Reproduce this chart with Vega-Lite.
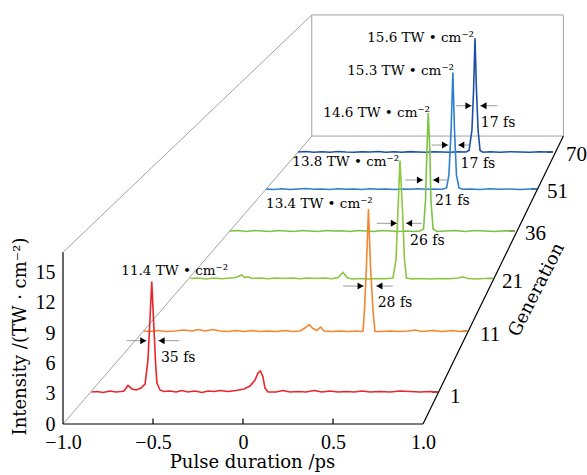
{
  "$schema": "https://vega.github.io/schema/vega-lite/v6.json",
  "width": 524,
  "height": 420,
  "autosize": {"type": "none"},
  "padding": {"left": 63, "top": 4, "right": 0, "bottom": 51},
  "background": "white",
  "config": {"view": {"stroke": null}, "font": "DejaVu Serif"},
  "datasets": {
    "frame": [
      {"kind": "guide", "x": -1, "y": 0, "x2": 0.383, "y2": 28.51},
      {"kind": "guide", "x": -1, "y": 17, "x2": 0.382, "y2": 40.5},
      {"kind": "guide", "x": 0.382, "y": 40.5, "x2": 1.78, "y2": 40.5},
      {"kind": "guide", "x": 0.382, "y": 28.51, "x2": 1.78, "y2": 28.51},
      {"kind": "guide", "x": 0.382, "y": 28.51, "x2": 0.382, "y2": 40.5},
      {"kind": "guide", "x": 1.78, "y": 28.51, "x2": 1.78, "y2": 40.5},
      {"kind": "axis", "x": -1, "y": 0, "x2": 1, "y2": 0},
      {"kind": "axis", "x": -1, "y": 0, "x2": -1, "y2": 17},
      {"kind": "axis", "x": 1, "y": 0, "x2": 1.78, "y2": 28.51},
      {"kind": "axis", "x": -0.5, "y": 0, "x2": -0.5, "y2": 0.55},
      {"kind": "axis", "x": 0, "y": 0, "x2": 0, "y2": 0.55},
      {"kind": "axis", "x": 0.5, "y": 0, "x2": 0.5, "y2": 0.55},
      {"kind": "axis", "x": 1.05, "y": 3.17, "x2": 1.083, "y2": 3.17},
      {"kind": "axis", "x": 1.217, "y": 9.18, "x2": 1.25, "y2": 9.18},
      {"kind": "axis", "x": 1.356, "y": 14.41, "x2": 1.389, "y2": 14.41},
      {"kind": "axis", "x": 1.478, "y": 19.11, "x2": 1.511, "y2": 19.11},
      {"kind": "axis", "x": 1.6, "y": 23.27, "x2": 1.633, "y2": 23.27},
      {"kind": "axis", "x": 1.689, "y": 26.93, "x2": 1.722, "y2": 26.93}
    ],
    "curves": [
      {"gen": "70", "x": 0.306, "y": 26.93}, {"gen": "70", "x": 0.35, "y": 26.98}, {"gen": "70", "x": 0.394, "y": 26.9}, {"gen": "70", "x": 0.439, "y": 26.96}, {"gen": "70", "x": 0.483, "y": 26.91}, {"gen": "70", "x": 0.528, "y": 26.98}, {"gen": "70", "x": 0.572, "y": 26.93}, {"gen": "70", "x": 0.617, "y": 26.9}, {"gen": "70", "x": 0.661, "y": 26.96}, {"gen": "70", "x": 0.706, "y": 26.93}, {"gen": "70", "x": 0.75, "y": 26.98}, {"gen": "70", "x": 0.794, "y": 26.91}, {"gen": "70", "x": 0.839, "y": 26.95}, {"gen": "70", "x": 0.883, "y": 26.91}, {"gen": "70", "x": 0.928, "y": 26.97}, {"gen": "70", "x": 0.972, "y": 26.93}, {"gen": "70", "x": 1.017, "y": 26.9}, {"gen": "70", "x": 1.061, "y": 26.96}, {"gen": "70", "x": 1.106, "y": 26.93}, {"gen": "70", "x": 1.15, "y": 26.91}, {"gen": "70", "x": 1.194, "y": 26.96}, {"gen": "70", "x": 1.239, "y": 26.93}, {"gen": "70", "x": 1.256, "y": 27.08}, {"gen": "70", "x": 1.272, "y": 29.11}, {"gen": "70", "x": 1.281, "y": 33.07}, {"gen": "70", "x": 1.289, "y": 38.19}, {"gen": "70", "x": 1.297, "y": 33.07}, {"gen": "70", "x": 1.306, "y": 29.11}, {"gen": "70", "x": 1.317, "y": 27.08}, {"gen": "70", "x": 1.333, "y": 26.91}, {"gen": "70", "x": 1.372, "y": 26.95}, {"gen": "70", "x": 1.428, "y": 26.91}, {"gen": "70", "x": 1.483, "y": 26.96}, {"gen": "70", "x": 1.539, "y": 26.93}, {"gen": "70", "x": 1.594, "y": 26.9}, {"gen": "70", "x": 1.65, "y": 26.96}, {"gen": "70", "x": 1.694, "y": 26.93}, {"gen": "70", "x": 1.722, "y": 26.93},
      {"gen": "51", "x": 0.128, "y": 23.27}, {"gen": "51", "x": 0.172, "y": 23.22}, {"gen": "51", "x": 0.217, "y": 23.29}, {"gen": "51", "x": 0.261, "y": 23.22}, {"gen": "51", "x": 0.306, "y": 23.27}, {"gen": "51", "x": 0.35, "y": 23.32}, {"gen": "51", "x": 0.394, "y": 23.24}, {"gen": "51", "x": 0.439, "y": 23.27}, {"gen": "51", "x": 0.483, "y": 23.22}, {"gen": "51", "x": 0.528, "y": 23.29}, {"gen": "51", "x": 0.572, "y": 23.24}, {"gen": "51", "x": 0.617, "y": 23.27}, {"gen": "51", "x": 0.661, "y": 23.22}, {"gen": "51", "x": 0.706, "y": 23.29}, {"gen": "51", "x": 0.75, "y": 23.24}, {"gen": "51", "x": 0.794, "y": 23.27}, {"gen": "51", "x": 0.839, "y": 23.22}, {"gen": "51", "x": 0.883, "y": 23.27}, {"gen": "51", "x": 0.928, "y": 23.24}, {"gen": "51", "x": 0.972, "y": 23.29}, {"gen": "51", "x": 1.017, "y": 23.24}, {"gen": "51", "x": 1.061, "y": 23.27}, {"gen": "51", "x": 1.106, "y": 23.24}, {"gen": "51", "x": 1.131, "y": 23.37}, {"gen": "51", "x": 1.144, "y": 24.65}, {"gen": "51", "x": 1.156, "y": 29.11}, {"gen": "51", "x": 1.166, "y": 34.8}, {"gen": "51", "x": 1.175, "y": 29.11}, {"gen": "51", "x": 1.186, "y": 24.65}, {"gen": "51", "x": 1.2, "y": 23.37}, {"gen": "51", "x": 1.222, "y": 23.24}, {"gen": "51", "x": 1.261, "y": 23.27}, {"gen": "51", "x": 1.317, "y": 23.22}, {"gen": "51", "x": 1.372, "y": 23.29}, {"gen": "51", "x": 1.428, "y": 23.24}, {"gen": "51", "x": 1.483, "y": 23.27}, {"gen": "51", "x": 1.539, "y": 23.22}, {"gen": "51", "x": 1.594, "y": 23.27}, {"gen": "51", "x": 1.633, "y": 23.27},
      {"gen": "36", "x": -0.075, "y": 19.11}, {"gen": "36", "x": -0.028, "y": 19.16}, {"gen": "36", "x": 0.017, "y": 19.06}, {"gen": "36", "x": 0.061, "y": 19.16}, {"gen": "36", "x": 0.106, "y": 19.11}, {"gen": "36", "x": 0.15, "y": 19.06}, {"gen": "36", "x": 0.194, "y": 19.16}, {"gen": "36", "x": 0.239, "y": 19.11}, {"gen": "36", "x": 0.283, "y": 19.06}, {"gen": "36", "x": 0.328, "y": 19.16}, {"gen": "36", "x": 0.372, "y": 19.11}, {"gen": "36", "x": 0.417, "y": 19.06}, {"gen": "36", "x": 0.461, "y": 19.16}, {"gen": "36", "x": 0.506, "y": 19.11}, {"gen": "36", "x": 0.55, "y": 19.13}, {"gen": "36", "x": 0.594, "y": 19.06}, {"gen": "36", "x": 0.639, "y": 19.16}, {"gen": "36", "x": 0.683, "y": 19.11}, {"gen": "36", "x": 0.728, "y": 19.06}, {"gen": "36", "x": 0.772, "y": 19.16}, {"gen": "36", "x": 0.817, "y": 19.11}, {"gen": "36", "x": 0.861, "y": 19.06}, {"gen": "36", "x": 0.906, "y": 19.11}, {"gen": "36", "x": 0.95, "y": 19.06}, {"gen": "36", "x": 0.983, "y": 19.11}, {"gen": "36", "x": 1.003, "y": 19.31}, {"gen": "36", "x": 1.014, "y": 22.18}, {"gen": "36", "x": 1.022, "y": 27.13}, {"gen": "36", "x": 1.029, "y": 30.79}, {"gen": "36", "x": 1.038, "y": 27.13}, {"gen": "36", "x": 1.044, "y": 22.18}, {"gen": "36", "x": 1.056, "y": 19.31}, {"gen": "36", "x": 1.078, "y": 19.06}, {"gen": "36", "x": 1.122, "y": 19.11}, {"gen": "36", "x": 1.178, "y": 19.16}, {"gen": "36", "x": 1.233, "y": 19.06}, {"gen": "36", "x": 1.289, "y": 19.16}, {"gen": "36", "x": 1.344, "y": 19.11}, {"gen": "36", "x": 1.4, "y": 19.06}, {"gen": "36", "x": 1.456, "y": 19.13}, {"gen": "36", "x": 1.511, "y": 19.11},
      {"gen": "21", "x": -0.294, "y": 14.41}, {"gen": "21", "x": -0.25, "y": 14.46}, {"gen": "21", "x": -0.206, "y": 14.36}, {"gen": "21", "x": -0.161, "y": 14.46}, {"gen": "21", "x": -0.117, "y": 14.38}, {"gen": "21", "x": -0.072, "y": 14.46}, {"gen": "21", "x": -0.039, "y": 14.5}, {"gen": "21", "x": -0.008, "y": 14.75}, {"gen": "21", "x": 0.011, "y": 14.5}, {"gen": "21", "x": 0.028, "y": 14.57}, {"gen": "21", "x": 0.05, "y": 14.41}, {"gen": "21", "x": 0.094, "y": 14.46}, {"gen": "21", "x": 0.139, "y": 14.38}, {"gen": "21", "x": 0.183, "y": 14.46}, {"gen": "21", "x": 0.228, "y": 14.41}, {"gen": "21", "x": 0.272, "y": 14.46}, {"gen": "21", "x": 0.317, "y": 14.38}, {"gen": "21", "x": 0.361, "y": 14.46}, {"gen": "21", "x": 0.406, "y": 14.41}, {"gen": "21", "x": 0.45, "y": 14.46}, {"gen": "21", "x": 0.494, "y": 14.38}, {"gen": "21", "x": 0.528, "y": 14.5}, {"gen": "21", "x": 0.556, "y": 15.0}, {"gen": "21", "x": 0.578, "y": 14.5}, {"gen": "21", "x": 0.606, "y": 14.36}, {"gen": "21", "x": 0.65, "y": 14.41}, {"gen": "21", "x": 0.694, "y": 14.36}, {"gen": "21", "x": 0.739, "y": 14.41}, {"gen": "21", "x": 0.789, "y": 14.38}, {"gen": "21", "x": 0.833, "y": 14.46}, {"gen": "21", "x": 0.85, "y": 16.24}, {"gen": "21", "x": 0.861, "y": 21.19}, {"gen": "21", "x": 0.872, "y": 26.09}, {"gen": "21", "x": 0.886, "y": 21.19}, {"gen": "21", "x": 0.897, "y": 16.24}, {"gen": "21", "x": 0.908, "y": 14.46}, {"gen": "21", "x": 0.939, "y": 14.36}, {"gen": "21", "x": 0.983, "y": 14.41}, {"gen": "21", "x": 1.039, "y": 14.36}, {"gen": "21", "x": 1.094, "y": 14.41}, {"gen": "21", "x": 1.15, "y": 14.38}, {"gen": "21", "x": 1.194, "y": 14.46}, {"gen": "21", "x": 1.222, "y": 14.57}, {"gen": "21", "x": 1.25, "y": 14.41}, {"gen": "21", "x": 1.294, "y": 14.36}, {"gen": "21", "x": 1.339, "y": 14.41}, {"gen": "21", "x": 1.389, "y": 14.41},
      {"gen": "11", "x": -0.553, "y": 9.21}, {"gen": "11", "x": -0.517, "y": 9.16}, {"gen": "11", "x": -0.472, "y": 9.26}, {"gen": "11", "x": -0.428, "y": 9.16}, {"gen": "11", "x": -0.378, "y": 9.21}, {"gen": "11", "x": -0.328, "y": 9.31}, {"gen": "11", "x": -0.283, "y": 9.21}, {"gen": "11", "x": -0.25, "y": 9.36}, {"gen": "11", "x": -0.211, "y": 9.21}, {"gen": "11", "x": -0.167, "y": 9.36}, {"gen": "11", "x": -0.128, "y": 9.21}, {"gen": "11", "x": -0.083, "y": 9.16}, {"gen": "11", "x": -0.039, "y": 9.26}, {"gen": "11", "x": 0.006, "y": 9.16}, {"gen": "11", "x": 0.05, "y": 9.26}, {"gen": "11", "x": 0.094, "y": 9.16}, {"gen": "11", "x": 0.139, "y": 9.21}, {"gen": "11", "x": 0.183, "y": 9.16}, {"gen": "11", "x": 0.233, "y": 9.26}, {"gen": "11", "x": 0.278, "y": 9.16}, {"gen": "11", "x": 0.317, "y": 9.21}, {"gen": "11", "x": 0.344, "y": 9.5}, {"gen": "11", "x": 0.367, "y": 9.85}, {"gen": "11", "x": 0.389, "y": 9.45}, {"gen": "11", "x": 0.411, "y": 9.26}, {"gen": "11", "x": 0.431, "y": 9.6}, {"gen": "11", "x": 0.45, "y": 9.21}, {"gen": "11", "x": 0.494, "y": 9.16}, {"gen": "11", "x": 0.539, "y": 9.21}, {"gen": "11", "x": 0.583, "y": 9.16}, {"gen": "11", "x": 0.628, "y": 9.21}, {"gen": "11", "x": 0.656, "y": 9.16}, {"gen": "11", "x": 0.667, "y": 9.2}, {"gen": "11", "x": 0.675, "y": 11.29}, {"gen": "11", "x": 0.686, "y": 15.74}, {"gen": "11", "x": 0.697, "y": 21.29}, {"gen": "11", "x": 0.708, "y": 15.74}, {"gen": "11", "x": 0.722, "y": 11.29}, {"gen": "11", "x": 0.733, "y": 9.16}, {"gen": "11", "x": 0.761, "y": 9.16}, {"gen": "11", "x": 0.817, "y": 9.21}, {"gen": "11", "x": 0.872, "y": 9.16}, {"gen": "11", "x": 0.917, "y": 9.21}, {"gen": "11", "x": 0.956, "y": 9.31}, {"gen": "11", "x": 0.994, "y": 9.16}, {"gen": "11", "x": 1.056, "y": 9.26}, {"gen": "11", "x": 1.106, "y": 9.16}, {"gen": "11", "x": 1.159, "y": 9.26}, {"gen": "11", "x": 1.206, "y": 9.16}, {"gen": "11", "x": 1.25, "y": 9.21},
      {"gen": "1", "x": -0.842, "y": 3.17}, {"gen": "1", "x": -0.811, "y": 3.22}, {"gen": "1", "x": -0.778, "y": 3.12}, {"gen": "1", "x": -0.739, "y": 3.27}, {"gen": "1", "x": -0.706, "y": 3.17}, {"gen": "1", "x": -0.678, "y": 3.22}, {"gen": "1", "x": -0.661, "y": 3.27}, {"gen": "1", "x": -0.639, "y": 3.81}, {"gen": "1", "x": -0.617, "y": 3.47}, {"gen": "1", "x": -0.594, "y": 3.37}, {"gen": "1", "x": -0.567, "y": 3.56}, {"gen": "1", "x": -0.544, "y": 3.96}, {"gen": "1", "x": -0.528, "y": 6.34}, {"gen": "1", "x": -0.517, "y": 10.3}, {"gen": "1", "x": -0.507, "y": 14.11}, {"gen": "1", "x": -0.497, "y": 10.3}, {"gen": "1", "x": -0.486, "y": 6.14}, {"gen": "1", "x": -0.478, "y": 4.06}, {"gen": "1", "x": -0.461, "y": 3.37}, {"gen": "1", "x": -0.439, "y": 3.22}, {"gen": "1", "x": -0.406, "y": 3.27}, {"gen": "1", "x": -0.372, "y": 3.17}, {"gen": "1", "x": -0.339, "y": 3.32}, {"gen": "1", "x": -0.306, "y": 3.17}, {"gen": "1", "x": -0.267, "y": 3.27}, {"gen": "1", "x": -0.228, "y": 3.12}, {"gen": "1", "x": -0.194, "y": 3.27}, {"gen": "1", "x": -0.161, "y": 3.22}, {"gen": "1", "x": -0.128, "y": 3.32}, {"gen": "1", "x": -0.083, "y": 3.22}, {"gen": "1", "x": -0.039, "y": 3.32}, {"gen": "1", "x": 0.006, "y": 3.47}, {"gen": "1", "x": 0.039, "y": 3.76}, {"gen": "1", "x": 0.067, "y": 4.36}, {"gen": "1", "x": 0.083, "y": 5.05}, {"gen": "1", "x": 0.097, "y": 5.25}, {"gen": "1", "x": 0.111, "y": 4.65}, {"gen": "1", "x": 0.122, "y": 3.56}, {"gen": "1", "x": 0.139, "y": 3.17}, {"gen": "1", "x": 0.183, "y": 3.17}, {"gen": "1", "x": 0.222, "y": 3.32}, {"gen": "1", "x": 0.261, "y": 3.17}, {"gen": "1", "x": 0.306, "y": 3.22}, {"gen": "1", "x": 0.35, "y": 3.17}, {"gen": "1", "x": 0.394, "y": 3.32}, {"gen": "1", "x": 0.439, "y": 3.17}, {"gen": "1", "x": 0.483, "y": 3.27}, {"gen": "1", "x": 0.528, "y": 3.17}, {"gen": "1", "x": 0.572, "y": 3.22}, {"gen": "1", "x": 0.617, "y": 3.17}, {"gen": "1", "x": 0.661, "y": 3.27}, {"gen": "1", "x": 0.706, "y": 3.17}, {"gen": "1", "x": 0.761, "y": 3.22}, {"gen": "1", "x": 0.817, "y": 3.17}, {"gen": "1", "x": 0.872, "y": 3.27}, {"gen": "1", "x": 0.928, "y": 3.22}, {"gen": "1", "x": 0.983, "y": 3.17}, {"gen": "1", "x": 1.039, "y": 3.22}, {"gen": "1", "x": 1.083, "y": 3.17}
    ],
    "fwhm": [
      {"gen": "1", "x": -0.646, "x2": -0.535, "y": 8.25}, {"gen": "1", "x": -0.471, "x2": -0.354, "y": 8.25},
      {"gen": "11", "x": 0.556, "x2": 0.672, "y": 13.66}, {"gen": "11", "x": 0.739, "x2": 0.832, "y": 13.66},
      {"gen": "21", "x": 0.743, "x2": 0.857, "y": 19.87}, {"gen": "21", "x": 0.904, "x2": 0.993, "y": 19.87},
      {"gen": "36", "x": 0.9, "x2": 1.002, "y": 24.16}, {"gen": "36", "x": 1.054, "x2": 1.141, "y": 24.16},
      {"gen": "51", "x": 1.048, "x2": 1.141, "y": 27.62}, {"gen": "51", "x": 1.194, "x2": 1.256, "y": 27.62},
      {"gen": "70", "x": 1.183, "x2": 1.271, "y": 31.51}, {"gen": "70", "x": 1.317, "x2": 1.413, "y": 31.51}
    ],
    "arrows": [
      {"gen": "1", "x": -0.554, "y": 8.25, "dir": "right"}, {"gen": "1", "x": -0.452, "y": 8.25, "dir": "left"},
      {"gen": "11", "x": 0.653, "y": 13.66, "dir": "right"}, {"gen": "11", "x": 0.758, "y": 13.66, "dir": "left"},
      {"gen": "21", "x": 0.838, "y": 19.87, "dir": "right"}, {"gen": "21", "x": 0.923, "y": 19.87, "dir": "left"},
      {"gen": "36", "x": 0.983, "y": 24.16, "dir": "right"}, {"gen": "36", "x": 1.073, "y": 24.16, "dir": "left"},
      {"gen": "51", "x": 1.122, "y": 27.62, "dir": "right"}, {"gen": "51", "x": 1.213, "y": 27.62, "dir": "left"},
      {"gen": "70", "x": 1.252, "y": 31.51, "dir": "right"}, {"gen": "70", "x": 1.336, "y": 31.51, "dir": "left"}
    ],
    "labels": [
      {"kind": "peak", "x": 1.283, "y": 37.85, "text": "15.6 TW • cm⁻²"},
      {"kind": "peak", "x": 1.172, "y": 34.55, "text": "15.3 TW • cm⁻²"},
      {"kind": "peak", "x": 1.039, "y": 30.43, "text": "14.6 TW • cm⁻²"},
      {"kind": "peak", "x": 0.867, "y": 25.54, "text": "13.8 TW • cm⁻²"},
      {"kind": "peak", "x": 0.721, "y": 21.36, "text": "13.4 TW • cm⁻²"},
      {"kind": "peak", "x": -0.083, "y": 14.75, "text": "11.4 TW • cm⁻²"},
      {"kind": "fwhm", "x": -0.456, "y": 6.17, "text": "35 fs"},
      {"kind": "fwhm", "x": 0.748, "y": 11.55, "text": "28 fs"},
      {"kind": "fwhm", "x": 0.928, "y": 17.72, "text": "26 fs"},
      {"kind": "fwhm", "x": 1.067, "y": 21.68, "text": "21 fs"},
      {"kind": "fwhm", "x": 1.209, "y": 25.32, "text": "17 fs"},
      {"kind": "fwhm", "x": 1.321, "y": 29.38, "text": "17 fs"},
      {"kind": "gen", "x": 1.794, "y": 26.63, "text": "70"},
      {"kind": "gen", "x": 1.689, "y": 22.97, "text": "51"},
      {"kind": "gen", "x": 1.567, "y": 18.81, "text": "36"},
      {"kind": "gen", "x": 1.439, "y": 14.06, "text": "21"},
      {"kind": "gen", "x": 1.317, "y": 8.81, "text": "11"},
      {"kind": "gen", "x": 1.15, "y": 2.67, "text": "1"},
      {"kind": "axisname", "x": 1.633, "y": 13.27, "text": "Generation"}
    ]
  },
  "encoding": {
    "x": {
      "field": "x", "type": "quantitative",
      "scale": {"domain": [-1, 1.9111], "nice": false, "zero": false},
      "axis": {
        "title": "Pulse duration /ps",
        "values": [-1, -0.5, 0, 0.5, 1],
        "format": ".1f",
        "labelExpr": "datum.value == 0 ? '0' : datum.label",
        "domain": false, "ticks": false, "grid": false,
        "labelPadding": 8, "labelFlush": false, "labelOverlap": false,
        "labelFont": "Liberation Serif", "labelFontSize": 20, "labelColor": "black",
        "titleFont": "DejaVu Serif", "titleFontSize": 18, "titleFontWeight": "normal", "titleColor": "black",
        "titleX": 189, "titleY": 43, "titleAlign": "center", "titleBaseline": "alphabetic"
      }
    },
    "y": {
      "field": "y", "type": "quantitative",
      "scale": {"domain": [0, 41.584], "nice": false, "zero": false},
      "axis": {
        "title": "Intensity /(TW · cm⁻²)",
        "values": [0, 3, 6, 9, 12, 15],
        "format": "d",
        "domain": false, "ticks": false, "grid": false,
        "labelPadding": 8, "labelFlush": false, "labelOverlap": false,
        "labelFont": "Liberation Serif", "labelFontSize": 20, "labelColor": "black",
        "titleFont": "DejaVu Serif", "titleFontSize": 18, "titleFontWeight": "normal", "titleColor": "black",
        "titleX": -43, "titleY": 332, "titleAngle": 270, "titleAlign": "center", "titleBaseline": "middle"
      }
    }
  },
  "layer": [
    {
      "data": {"name": "frame"},
      "transform": [{"filter": "datum.kind == 'guide'"}],
      "mark": {"type": "rule", "color": "#a3a3a3", "strokeWidth": 1},
      "encoding": {"x2": {"field": "x2"}, "y2": {"field": "y2"}}
    },
    {
      "data": {"name": "frame"},
      "transform": [{"filter": "datum.kind == 'axis'"}],
      "mark": {"type": "rule", "color": "black", "strokeWidth": 1.2},
      "encoding": {"x2": {"field": "x2"}, "y2": {"field": "y2"}}
    },
    {
      "data": {"name": "curves"},
      "mark": {"type": "line", "strokeWidth": 1.6, "interpolate": "linear"},
      "encoding": {
        "color": {
          "field": "gen", "type": "nominal", "legend": null,
          "scale": {"domain": ["70", "51", "36", "21", "11", "1"], "range": ["#1d4fa5", "#2e7fcf", "#7cc243", "#8dc63f", "#f3872f", "#e8272c"]}
        },
        "order": {"field": "x", "type": "quantitative"}
      }
    },
    {
      "data": {"name": "fwhm"},
      "mark": {"type": "rule", "color": "#9a9a9a", "strokeWidth": 1},
      "encoding": {"x2": {"field": "x2"}}
    },
    {
      "data": {"name": "arrows"},
      "mark": {"type": "point", "filled": true, "color": "black", "opacity": 1, "size": 48},
      "encoding": {
        "shape": {"field": "dir", "type": "nominal", "legend": null, "scale": {"domain": ["right", "left"], "range": ["triangle-right", "triangle-left"]}}
      }
    },
    {
      "data": {"name": "labels"},
      "transform": [{"filter": "datum.kind == 'peak'"}],
      "mark": {"type": "text", "align": "right", "baseline": "alphabetic", "font": "DejaVu Serif", "fontSize": 13.5, "color": "black"},
      "encoding": {"text": {"field": "text"}}
    },
    {
      "data": {"name": "labels"},
      "transform": [{"filter": "datum.kind == 'fwhm'"}],
      "mark": {"type": "text", "align": "left", "baseline": "alphabetic", "font": "DejaVu Serif", "fontSize": 14, "color": "black"},
      "encoding": {"text": {"field": "text"}}
    },
    {
      "data": {"name": "labels"},
      "transform": [{"filter": "datum.kind == 'gen'"}],
      "mark": {"type": "text", "align": "left", "baseline": "middle", "font": "Liberation Serif", "fontSize": 21, "color": "black"},
      "encoding": {"text": {"field": "text"}}
    },
    {
      "data": {"name": "labels"},
      "transform": [{"filter": "datum.kind == 'axisname'"}],
      "mark": {"type": "text", "align": "center", "baseline": "middle", "font": "DejaVu Serif", "fontSize": 18, "angle": 297, "color": "black"},
      "encoding": {"text": {"field": "text"}}
    }
  ]
}
